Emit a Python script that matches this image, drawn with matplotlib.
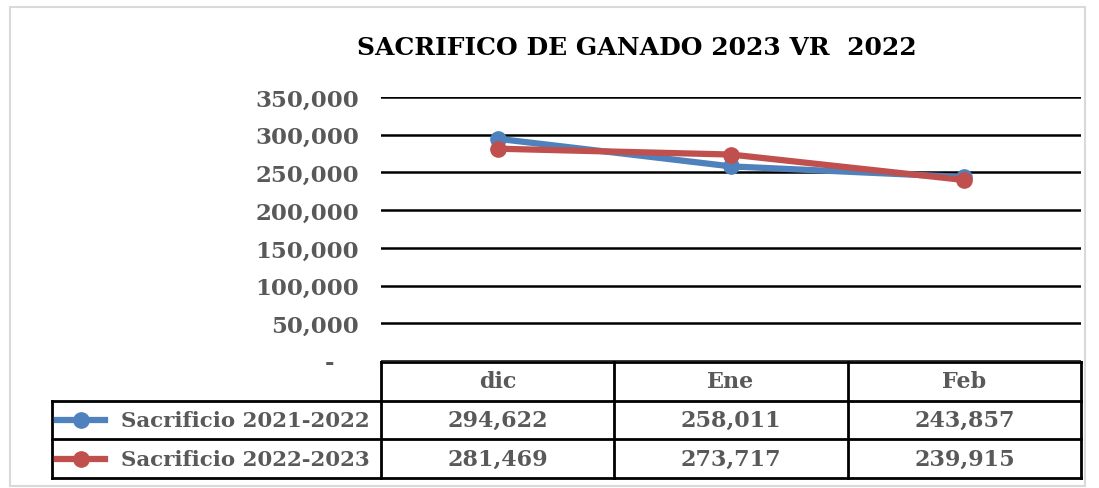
import matplotlib
matplotlib.use("Agg")
import matplotlib.pyplot as plt
from matplotlib.lines import Line2D
from matplotlib.patches import Rectangle
from matplotlib.ticker import FuncFormatter

# ---- data ----
categories = ["dic", "Ene", "Feb"]
series_names = ["Sacrificio 2021-2022", "Sacrificio 2022-2023"]
serie_2021_2022 = [294622, 258011, 243857]
serie_2022_2023 = [281469, 273717, 239915]
y_ticks = [0, 50000, 100000, 150000, 200000, 250000, 300000, 350000]
title = "SACRIFICO DE GANADO 2023 VR  2022"

colors = ["#4F81BD", "#C0504D"]
series = [serie_2021_2022, serie_2022_2023]
text_gray = "#595959"
FONT = ["DejaVu Serif"]

W, H = 1099, 489
fig = plt.figure(figsize=(W / 100, H / 100), dpi=100)

def fx(px):
    return px / W

def fy(py):
    return 1 - py / H

# outer chart border
fig.patches.append(Rectangle((fx(10), fy(487)), fx(1085) - fx(10), fy(8) - fy(487),
                             transform=fig.transFigure, fill=False,
                             edgecolor="#D9D9D9", lw=1.5))

# ---- main plot ----
x0, x1 = 381, 1081
ytop, ybot = 98, 362
ax = fig.add_axes([fx(x0), fy(ybot), fx(x1) - fx(x0), fy(ytop) - fy(ybot)])
ax.set_xlim(-0.5, len(categories) - 0.5)
ax.set_ylim(0, 350000)
for s in ax.spines.values():
    s.set_visible(False)
ax.set_yticks(y_ticks)
ax.yaxis.set_major_formatter(FuncFormatter(lambda v, p: "-   " if v == 0 else f"{int(v):,}"))
ax.tick_params(axis="y", length=0, pad=16, labelsize=16.5, labelcolor=text_gray)
for lab in ax.get_yticklabels():
    lab.set_fontfamily(FONT)
    lab.set_fontweight("bold")
ax.set_xticks([])
ax.grid(axis="y", color="black", lw=1.8)
ax.set_axisbelow(True)
xs = list(range(len(categories)))
for vals, c in zip(series, colors):
    ax.plot(xs, vals, color=c, lw=4.5, marker="o", markersize=11, solid_capstyle="round", zorder=3)

fig.text(fx(637), fy(48), title, ha="center", va="center", fontsize=18,
         fontweight="bold", family=FONT, color="black")

# ---- data table ----
lx = 52
col_w = (x1 - x0) / len(categories)
left_data = -0.5 - (x0 - lx) / col_w
rows_px = [363, 400, 439, 479]
tax = fig.add_axes([fx(lx), fy(rows_px[-1]), fx(x1) - fx(lx), fy(rows_px[0]) - fy(rows_px[-1])])
tax.set_xlim(left_data, len(categories) - 0.5)
tax.set_ylim(3, 0)
tax.axis("off")
lw = 2.0
# header row
tax.plot([-0.5, len(categories) - 0.5], [0, 0], color="black", lw=lw, clip_on=False)
for r in (1, 2, 3):
    tax.plot([left_data, len(categories) - 0.5], [r, r], color="black", lw=lw, clip_on=False)
tax.plot([left_data, left_data], [1, 3], color="black", lw=lw, clip_on=False)
for k in range(len(categories) + 1):
    tax.plot([k - 0.5, k - 0.5], [0, 3], color="black", lw=lw, clip_on=False)

for i, cat in enumerate(categories):
    tax.text(i, 0.5, cat, ha="center", va="center", fontsize=16, fontweight="bold",
             family=FONT, color=text_gray)
for r, (name, vals, c) in enumerate(zip(series_names, series, colors)):
    yr = r + 1.5
    # legend key
    kx0 = left_data + 5 / col_w
    kx1 = left_data + 53 / col_w
    tax.add_line(Line2D([kx0, kx1], [yr, yr], color=c, lw=4.5, clip_on=False))
    tax.plot([(kx0 + kx1) / 2], [yr], marker="o", markersize=11, color=c, clip_on=False)
    tax.text(left_data + 69 / col_w, yr, name, ha="left", va="center", fontsize=15.4,
             fontweight="bold", family=FONT, color=text_gray)
    for i, v in enumerate(vals):
        tax.text(i, yr, f"{v:,}", ha="center", va="center", fontsize=16, fontweight="bold",
                 family=FONT, color=text_gray)

fig.savefig("out.png", dpi=100)
